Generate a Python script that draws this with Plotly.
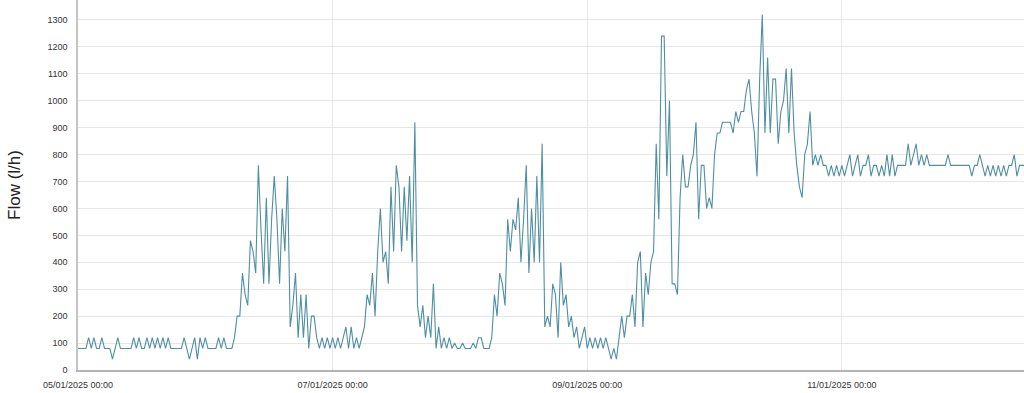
import pandas as pd
import plotly.graph_objects as go

# Flow readings (l/h), one value every 30 minutes, starting 05/01/2025 00:00
flow_jan05 = [80, 80, 80, 80, 120, 80, 120, 80, 80, 120, 80, 80,
              80, 40, 80, 120, 80, 80, 80, 80, 80, 120, 80, 120,
              80, 80, 120, 80, 120, 80, 120, 80, 120, 80, 120, 80,
              80, 80, 80, 80, 120, 80, 40, 80, 120, 40, 120, 80]
flow_jan06 = [120, 80, 80, 80, 80, 120, 80, 120, 80, 80, 80, 120,
              200, 200, 360, 280, 240, 480, 440, 360, 760, 520, 320, 640,
              320, 560, 720, 560, 320, 600, 440, 720, 160, 240, 360, 120,
              280, 120, 280, 80, 200, 200, 120, 80, 120, 80, 120, 80]
flow_jan07 = [120, 80, 120, 80, 120, 160, 80, 160, 80, 120, 80, 120,
              160, 280, 240, 360, 200, 440, 600, 400, 440, 320, 680, 440,
              760, 680, 440, 680, 480, 720, 400, 920, 240, 160, 240, 120,
              200, 120, 320, 80, 160, 80, 120, 80, 120, 80, 100, 80]
flow_jan08 = [80, 100, 80, 80, 80, 100, 80, 120, 120, 80, 80, 80,
              120, 280, 200, 360, 320, 240, 560, 440, 560, 520, 640, 400,
              560, 760, 360, 600, 400, 720, 400, 840, 160, 200, 160, 320,
              280, 120, 400, 240, 280, 160, 200, 120, 160, 80, 120, 160]
flow_jan09 = [80, 120, 80, 120, 80, 120, 80, 120, 80, 40, 80, 40,
              120, 200, 120, 200, 200, 280, 160, 400, 440, 160, 360, 280,
              400, 440, 840, 560, 1240, 1240, 720, 1000, 320, 320, 280, 640,
              800, 680, 680, 760, 800, 920, 560, 760, 760, 600, 640, 600]
flow_jan10 = [800, 880, 880, 920, 920, 920, 920, 880, 960, 920, 960, 960,
              1040, 1080, 960, 880, 720, 1080, 1320, 880, 1160, 880, 1080, 1080,
              840, 960, 1000, 1120, 880, 1120, 880, 760, 680, 640, 800, 840,
              960, 760, 800, 760, 800, 760, 760, 720, 760, 720, 760, 720]
flow_jan11 = [760, 720, 760, 800, 720, 760, 800, 720, 760, 760, 800, 720,
              760, 760, 720, 760, 720, 800, 720, 800, 720, 760, 760, 760,
              760, 840, 760, 800, 840, 760, 800, 760, 800, 760, 760, 760,
              760, 760, 760, 760, 800, 760, 760, 760, 760, 760, 760, 760]
flow_jan12 = [760, 720, 760, 760, 800, 760, 720, 760, 720, 760, 720, 760,
              720, 760, 720, 760, 760, 800, 720, 760, 760, 760]

start_time = "2025-01-05 00:00"
step = "30min"
x_range = ["2025-01-05 00:00", "2025-01-12 10:20"]
y_range = [0, 1374]
y_title = "Flow (l/h)"

flow = (flow_jan05 + flow_jan06 + flow_jan07 + flow_jan08 +
        flow_jan09 + flow_jan10 + flow_jan11 + flow_jan12)
times = pd.date_range(start=start_time, periods=len(flow), freq=step)

fig = go.Figure()
fig.add_trace(go.Scatter(
    x=times, y=flow, mode="lines",
    line=dict(color="#4f8fa3", width=1.1),
    hoverinfo="skip", showlegend=False,
))

tick_font = dict(family="Liberation Sans, Arial, sans-serif", size=9, color="#333333")

fig.update_layout(
    width=1024, height=393,
    margin=dict(l=78, r=0, t=0, b=23),
    paper_bgcolor="white", plot_bgcolor="white",
    showlegend=False,
)
fig.update_xaxes(
    range=x_range, type="date", automargin=False,
    tickformat="%d/%m/%Y %H:%M", dtick=2 * 86400000, tick0="2025-01-05",
    showgrid=True, gridcolor="#e8e8e8", gridwidth=1,
    showline=True, linecolor="#b4b4b4", linewidth=2,
    ticks="", ticklabelstandoff=5,
    tickfont=tick_font, zeroline=False,
)
fig.update_yaxes(
    range=y_range, dtick=100, tick0=0, automargin=False,
    showgrid=True, gridcolor="#e6e6e6", gridwidth=1,
    showline=True, linecolor="#c4c4c4", linewidth=1.5,
    ticks="", ticklabelstandoff=7,
    tickfont=tick_font, zeroline=False,
    title=dict(text=y_title, standoff=22,
               font=dict(family="Liberation Sans, Arial, sans-serif", size=17, color="#222222")),
)

fig.write_html(
    "out.html",
    config={"displayModeBar": False},
    post_script="document.body.style.margin='0';document.body.style.overflow='hidden';",
)
